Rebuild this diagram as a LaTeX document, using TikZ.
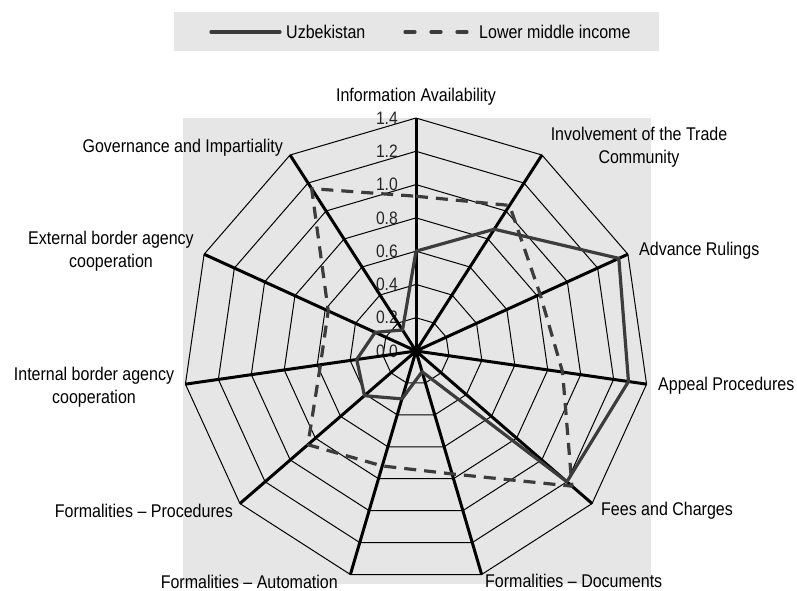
\documentclass[tikz,border=0pt]{standalone}
\usepackage{fontspec}
\setmainfont[FakeStretch=0.87]{Liberation Sans}
\definecolor{bggray}{RGB}{230,230,230}
\definecolor{dgray}{RGB}{60,60,60}
\begin{document}
\begin{tikzpicture}[x=1pt,y=1pt,
  lbl/.style={inner sep=0pt, font=\fontsize{18.4}{23}\selectfont, text=black},
  tick/.style={inner sep=0pt, anchor=east, font=\fontsize{18}{20}\selectfont, text=black!85},
  ring/.style={line width=1pt, black},
  spoke/.style={line width=3pt, black},
  uzb/.style={line width=3.2pt, dgray, line join=round},
  lmi/.style={line width=3.2pt, dgray, dash pattern=on 12pt off 8pt, line join=round},
  legsolid/.style={line width=3.2pt, dgray, line cap=round},
  legdash/.style={line width=3.2pt, dgray, line cap=round, dash pattern=on 10pt off 16pt}]
\useasboundingbox (0,0) rectangle (797,591);
% backgrounds
\fill[bggray] (174,540) rectangle (659,579);
\fill[bggray] (183,7) rectangle (651,473);
% legend
\coordinate (l1a) at (211,559);
\coordinate (l1b) at (280,559);
\coordinate (l2a) at (405,559);
\coordinate (l2b) at (468,559);
\draw[legsolid] (l1a) -- (l1b);
\node[lbl, anchor=west] (legU) at (286,559) {Uzbekistan};
\draw[legdash] (l2a) -- (l2b);
\node[lbl, anchor=west] (legL) at (479,559) {Lower middle income};
\begin{scope}[shift={(416,240)}]
  \coordinate (C) at (0,0);
  \foreach \k in {0,...,10}{
    \coordinate (a\k) at ({90-\k*360/11}:232.96);
  }
  % rings
  \foreach \i in {1,...,7}{
    \pgfmathsetmacro\r{\i*33.28}
    \draw[ring] (90:\r) -- ({90-1*360/11}:\r) -- ({90-2*360/11}:\r) -- ({90-3*360/11}:\r)
      -- ({90-4*360/11}:\r) -- ({90-5*360/11}:\r) -- ({90-6*360/11}:\r) -- ({90-7*360/11}:\r)
      -- ({90-8*360/11}:\r) -- ({90-9*360/11}:\r) -- ({90-10*360/11}:\r) -- cycle;
  }
  % tick labels
  \foreach \i/\t in {0/0.0,1/0.2,2/0.4,3/0.6,4/0.8,5/1.0,6/1.2,7/1.4}{
    \node[tick] (t\i) at (-18,{\i*33.28}) {\t};
  }
  % spokes
  \foreach \k in {0,...,10}{
    \draw[spoke] (C) -- (a\k);
  }
  % data points
  \foreach \v [count=\k from 0] in {0.6,0.87,1.34,1.29,1.2,0.13,0.30,0.41,0.36,0.27,0.15}{
    \coordinate (u\k) at ({90-\k*360/11}:{\v*166.4});
  }
  \foreach \v [count=\k from 0] in {0.93,1.04,0.82,0.89,1.24,0.77,0.72,0.86,0.58,0.58,1.16}{
    \coordinate (m\k) at ({90-\k*360/11}:{\v*166.4});
  }
  \draw[lmi] (m0) -- (m1) -- (m2) -- (m3) -- (m4) -- (m5) -- (m6) -- (m7) -- (m8) -- (m9) -- (m10) -- cycle;
  \draw[uzb] (u0) -- (u1) -- (u2) -- (u3) -- (u4) -- (u5) -- (u6) -- (u7) -- (u8) -- (u9) -- (u10) -- cycle;
\end{scope}
% axis labels
\node[lbl] (n0) at (416,494) {Information Availability};
\node[lbl, align=center] (n1) at (639,444) {Involvement of the Trade\\Community};
\node[lbl, anchor=west] (n2) at (639,340) {Advance Rulings};
\node[lbl, anchor=west] (n3) at (658,205) {Appeal Procedures};
\node[lbl, anchor=west] (n4) at (601,80) {Fees and Charges};
\node[lbl, anchor=west] (n5) at (485,10) {Formalities -- Documents};
\node[lbl, anchor=east] (n6) at (338,9) {Formalities -- Automation};
\node[lbl, anchor=east] (n7) at (233,80) {Formalities -- Procedures};
\node[lbl, align=center] (n8) at (94,204) {Internal border agency\\cooperation};
\node[lbl, align=center] (n9) at (111,340) {External border agency\\cooperation};
\node[lbl, anchor=east] (n10) at (283,443) {Governance and Impartiality};
\end{tikzpicture}
\end{document}
